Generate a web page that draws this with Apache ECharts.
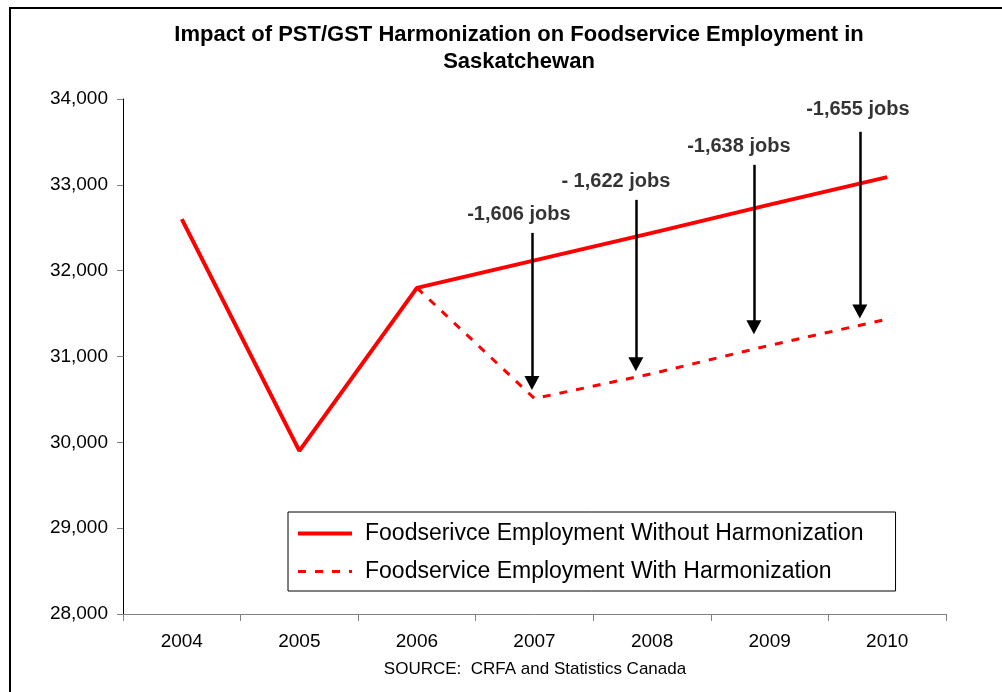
<!DOCTYPE html>
<html>
<head>
<meta charset="utf-8">
<script src="https://cdn.jsdelivr.net/npm/echarts@6/dist/echarts.min.js"></script>
<style>
  html, body { margin: 0; padding: 0; background: #fff; }
  #chart { width: 1002px; height: 692px; }
</style>
</head>
<body>
<div id="chart"></div>
<script>
// data
const years = ["2004", "2005", "2006", "2007", "2008", "2009", "2010"];
const withoutHarm = [32600, 29900, 31800, 32120, 32440, 32770, 33090];
const withHarm = [null, null, 31800, 30510, 30800, 31130, 31435];
const yTicks = [28000, 29000, 30000, 31000, 32000, 33000, 34000];

// job-loss annotations (x in category units, y in employment)
const jobLabels = ["-1,606 jobs", "- 1,622 jobs", "-1,638 jobs", "-1,655 jobs"];
const labelX = [2.867, 3.692, 4.738, 5.75];
const labelY = [32650, 33035, 33443, 33874];
const arrowX = [2.978, 3.862, 4.866, 5.767];
const arrowTop = [32440, 32825, 33233, 33618];
const arrowEnd = [30690, 30910, 31340, 31525];

const font = "'Liberation Sans', Arial, sans-serif";
const chart = echarts.init(document.getElementById("chart"));

let options = {
  backgroundColor: "#fff",
  animation: false,
  textStyle: { fontFamily: font },
  title: [
    {
      text: "Impact of PST/GST Harmonization on Foodservice Employment in\nSaskatchewan",
      left: 514,
      top: 16,
      textAlign: "center",
      textStyle: { fontSize: 22, fontWeight: "bold", color: "#000", lineHeight: 27, fontFamily: font },
    },
    {
      text: "SOURCE:  CRFA and Statistics Canada",
      left: 530,
      top: 656,
      textAlign: "center",
      textStyle: { fontSize: 17, fontWeight: "normal", color: "#000", fontFamily: font },
    },
  ],
  legend: {
    orient: "vertical",
    left: 288,
    top: 512,
    padding: [10, 32, 8, 8],
    itemWidth: 54,
    itemHeight: 20,
    itemGap: 15,
    borderColor: "#000",
    borderWidth: 1,
    backgroundColor: "#fff",
    itemStyle: { opacity: 0 },
    textStyle: { fontSize: 23, color: "#000", padding: [0, 0, 0, 8], fontFamily: font },
    data: [
      { name: "Foodserivce Employment Without Harmonization", lineStyle: { width: 4 } },
      { name: "Foodservice Employment With Harmonization", lineStyle: { width: 3 } },
    ],
  },
  graphic: [
    {
      type: "rect",
      shape: { x: 10, y: 8, width: 1200, height: 1000 },
      style: { fill: "none", stroke: "#000", lineWidth: 2 },
      silent: true,
    },
  ],
  grid: { left: 123, right: 56, top: 99, bottom: 78, containLabel: false },
  xAxis: [
    {
      type: "category",
      data: years,
      boundaryGap: true,
      axisLine: { onZero: false, lineStyle: { color: "#808080", width: 1 } },
      axisTick: { show: true, length: 7, lineStyle: { color: "#808080" } },
      axisLabel: { fontSize: 19, color: "#000", margin: 18, fontFamily: font },
      splitLine: { show: false },
    },
    {
      type: "value",
      min: -0.5,
      max: 6.5,
      show: false,
    },
  ],
  yAxis: {
    type: "value",
    min: yTicks[0],
    max: yTicks[yTicks.length - 1],
    interval: 1000,
    axisLine: { show: true, onZero: false, lineStyle: { color: "#000", width: 1 } },
    axisTick: { show: true, length: 6, lineStyle: { color: "#808080" } },
    axisLabel: {
      fontSize: 19,
      color: "#000",
      margin: 15,
      fontFamily: font,
      formatter: (v) => v.toLocaleString("en-US"),
    },
    splitLine: { show: false },
  },
  series: [
    {
      name: "Foodservice Employment With Harmonization",
      type: "line",
      data: withHarm,
      symbol: "none",
      z: 2,
      lineStyle: { color: "#ff0000", width: 3, type: [8, 9] },
      itemStyle: { color: "#ff0000" },
    },
    {
      name: "Foodserivce Employment Without Harmonization",
      type: "line",
      data: withoutHarm,
      symbol: "none",
      z: 3,
      lineStyle: { color: "#ff0000", width: 4 },
      itemStyle: { color: "#ff0000" },
    },
    {
      name: "jobs",
      type: "scatter",
      xAxisIndex: 1,
      symbolSize: 0,
      silent: true,
      z: 5,
      data: jobLabels.map((t, i) => ({ name: t, value: [labelX[i], labelY[i]] })),
      label: {
        show: true,
        position: "inside",
        formatter: (p) => p.name,
        fontSize: 20,
        fontWeight: "bold",
        color: "#000",
        fontFamily: font,
      },
      markLine: {
        silent: true,
        symbol: ["none", "triangle"],
        symbolSize: [15, 14],
        label: { show: false },
        lineStyle: { color: "#000", width: 2.5, type: "solid" },
        emphasis: { disabled: true },
        data: arrowX.map((x, i) => [
          { coord: [x, arrowTop[i]] },
          { coord: [x, arrowEnd[i]] },
        ]),
      },
    },
  ],
};

chart.setOption(options);
</script>
</body>
</html>
